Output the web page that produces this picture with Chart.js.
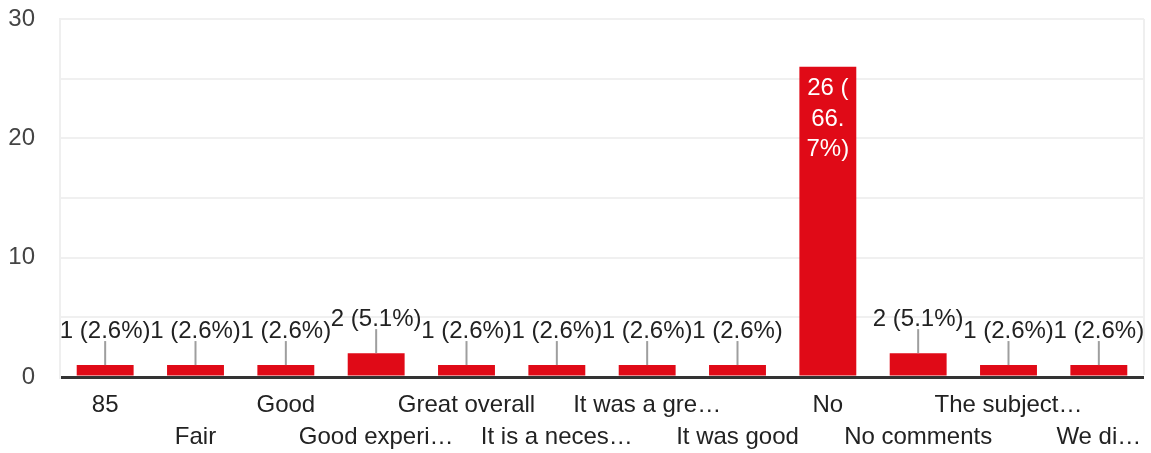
<!DOCTYPE html>
<html>
<head>
<meta charset="utf-8">
<script src="https://cdn.jsdelivr.net/npm/chart.js@4"></script>
<style>
  body { margin: 0; background: #fff; }
  #wrap { width: 1151px; height: 453px; }
</style>
</head>
<body>
<div id="wrap"><canvas id="answers"></canvas></div>
<script>
const categories = ['85', 'Fair', 'Good', 'Good experi\u2026', 'Great overall', 'It is a neces\u2026',
    'It was a gre\u2026', 'It was good', 'No', 'No comments', 'The subject\u2026', 'We di\u2026'];
const counts = [1, 1, 1, 2, 1, 1, 1, 1, 26, 2, 1, 1];
const yTicks = [0, 10, 20, 30];

const total = counts.reduce((a, b) => a + b, 0);
const FONT = '"Liberation Sans", Arial, sans-serif';

function labelFor(v) {
    return v + ' (' + (v / total * 100).toFixed(1) + '%)';
}

// wrap like the forms chart does: break after "(" and "."
function wrapText(ctx, text, maxWidth) {
    const parts = text.split(/(?<=[(.])/);
    const lines = [];
    let cur = '';
    parts.forEach(p => {
        if (cur && ctx.measureText(cur + p).width > maxWidth) {
            lines.push(cur.trim());
            cur = p;
        } else {
            cur += p;
        }
    });
    if (cur) lines.push(cur.trim());
    return lines;
}

const barLabels = {
    id: 'barLabels',
    afterDatasetsDraw(chart) {
        const ctx = chart.ctx;
        const meta = chart.getDatasetMeta(0);
        ctx.save();
        ctx.font = '24px ' + FONT;
        ctx.textAlign = 'center';
        ctx.textBaseline = 'middle';
        meta.data.forEach((bar, i) => {
            const text = labelFor(counts[i]);
            const h = bar.base - bar.y;
            if (h > 100) {
                ctx.fillStyle = '#ffffff';
                const lines = wrapText(ctx, text, bar.width - 12);
                lines.forEach((ln, k) => {
                    ctx.fillText(ln, bar.x, bar.y + 22 + k * 30.5);
                });
            } else {
                ctx.strokeStyle = '#9e9e9e';
                ctx.lineWidth = 2;
                ctx.beginPath();
                ctx.moveTo(bar.x, bar.y - 24);
                ctx.lineTo(bar.x, bar.y);
                ctx.stroke();
                ctx.fillStyle = '#222222';
                ctx.fillText(text, bar.x, bar.y - 34);
            }
        });
        ctx.restore();
    },
    afterDraw(chart) {
        const a = chart.chartArea;
        const ctx = chart.ctx;
        ctx.save();
        ctx.strokeStyle = '#efefef';
        ctx.lineWidth = 2;
        ctx.beginPath();
        ctx.moveTo(a.right, a.top);
        ctx.lineTo(a.right, a.bottom - 2);
        ctx.stroke();
        ctx.restore();
    }
};

new Chart(document.getElementById('answers'), {
    type: 'bar',
    data: {
        labels: categories,
        datasets: [{
            data: counts,
            backgroundColor: '#e00a17',
            barPercentage: 0.63,
            categoryPercentage: 1
        }]
    },
    options: {
        responsive: true,
        maintainAspectRatio: false,
        animation: false,
        layout: { padding: { top: 19, right: 7, left: 0, bottom: 0 } },
        plugins: { legend: { display: false }, tooltip: { enabled: false } },
        scales: {
            x: {
                grid: { display: false, drawTicks: false },
                border: { display: false },
                afterFit(scale) {
                    scale.height = 76;
                    scale.paddingLeft = 0;
                    scale.paddingRight = 0;
                },
                ticks: {
                    autoSkip: false,
                    maxRotation: 0,
                    minRotation: 0,
                    padding: 12,
                    color: '#222222',
                    font: { family: FONT, size: 24, lineHeight: 1.333 },
                    callback(value, index) {
                        const l = this.getLabelForValue(value);
                        return index % 2 ? ['', l] : l;
                    }
                }
            },
            y: {
                min: 0,
                max: 30,
                afterFit(scale) {
                    scale.width = 60;
                    scale.paddingTop = 0;
                    scale.paddingBottom = 0;
                },
                border: { display: true, color: '#efefef', width: 2 },
                grid: {
                    drawTicks: false,
                    color: c => c.tick.value === 0 ? '#333333' : '#f0f0f0',
                    lineWidth: c => c.tick.value === 0 ? 3 : 2
                },
                ticks: {
                    stepSize: 5,
                    padding: 25,
                    color: '#444444',
                    font: { family: FONT, size: 24 },
                    callback: v => yTicks.includes(v) ? v : ''
                }
            }
        }
    },
    plugins: [barLabels]
});
</script>
</body>
</html>
